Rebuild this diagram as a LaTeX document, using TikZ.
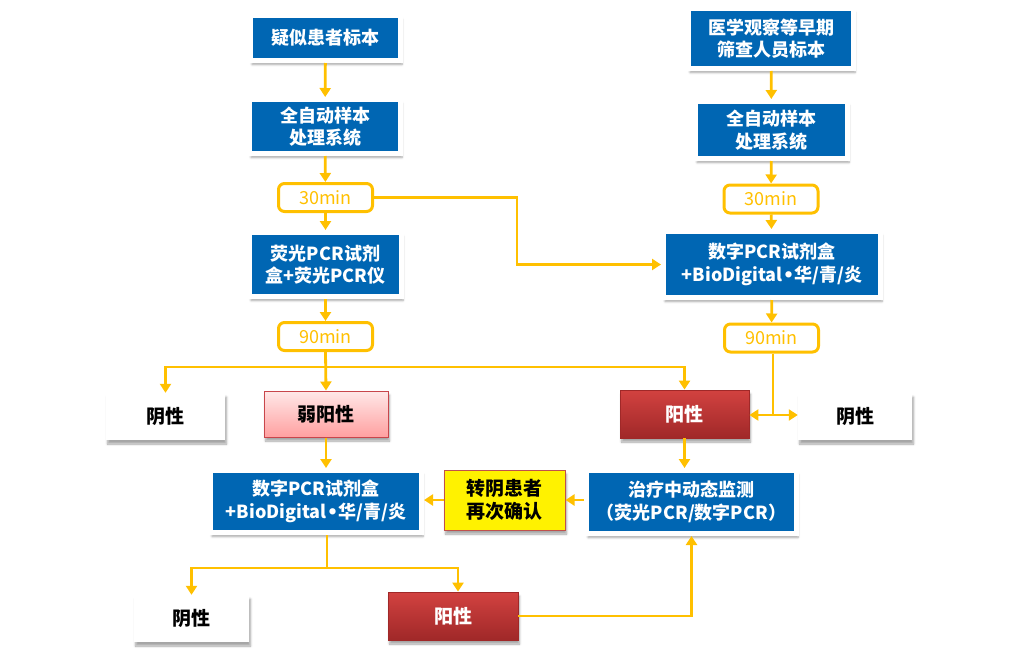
\documentclass[tikz,border=0pt]{standalone}
\usepackage{fontspec}
\setmainfont{Noto Sans CJK SC}
\newfontfamily\bulletfont{DejaVu Sans}
\newcommand{\mybul}{{\bulletfont\bfseries •}}
\usetikzlibrary{arrows.meta,shadows.blur,calc}
\definecolor{bblue}{RGB}{0,102,179}
\definecolor{gold}{RGB}{255,192,0}
\definecolor{redtop}{RGB}{210,66,64}
\definecolor{redbot}{RGB}{160,40,40}
\definecolor{pinktop}{RGB}{255,232,232}
\definecolor{pinkbot}{RGB}{255,160,160}
\definecolor{pinkedge}{RGB}{200,70,75}
\definecolor{yedge}{RGB}{192,80,77}
\tikzset{
  shad/.style={blur shadow={shadow xshift=1.5pt, shadow yshift=-4pt, shadow blur steps=6, shadow opacity=35}},
  bluebox/.style={fill=bblue, draw=white, line width=5pt, text=white, font=\bfseries\fontsize{18}{22.5}\selectfont, align=center, inner sep=0pt, shad},
  timebox/.style={draw=gold, fill=white, line width=3pt, rounded corners=6pt, text=gold, font=\fontsize{18}{20}\selectfont, inner sep=0pt, minimum width=94pt, minimum height=28pt},
  negbox/.style={fill=white, text=black, font=\bfseries\fontsize{19}{22}\selectfont, inner sep=0pt, shad},
  posbox/.style={top color=redtop, bottom color=redbot, draw=redbot, line width=0.8pt, text=white, font=\bfseries\fontsize{19}{22}\selectfont, inner sep=0pt, shad},
  weakbox/.style={top color=pinktop, bottom color=pinkbot, draw=pinkedge, line width=1pt, text=black, font=\bfseries\fontsize{19}{22}\selectfont, inner sep=0pt, shad},
  ybox/.style={fill=yellow, draw=yedge, line width=1pt, text=black, font=\bfseries\fontsize{19}{23}\selectfont, align=center, inner sep=0pt, shad},
  ln/.style={draw=gold, line width=2.8pt},
  arr/.style={draw=gold, line width=2.8pt, -{Triangle[length=9pt,width=11pt]}},
}
\begin{document}
\begin{tikzpicture}[x=1pt,y=-1pt]
\useasboundingbox (0,0) rectangle (1025,653);
% left column
\node[bluebox, minimum width=150pt, minimum height=45pt] (b1) at (325.5,38) {疑似患者标本};
\node[bluebox, minimum width=151pt, minimum height=54pt] (b2) at (325,126.5) {全自动样本\\处理系统};
\node[timebox] (t1) at (325.5,197.5) {30min};
\node[bluebox, minimum width=152pt, minimum height=64pt] (b3) at (325.5,264.5) {荧光PCR试剂\\盒+荧光PCR仪};
\node[timebox] (t2) at (325.5,336.5) {90min};
% right column
\node[bluebox, minimum width=165pt, minimum height=60pt] (r1) at (771,38.5) {医学观察等早期\\筛查人员标本};
\node[bluebox, minimum width=152pt, minimum height=57pt] (r2) at (771.5,130) {全自动样本\\处理系统};
\node[timebox] (t3) at (771,199) {30min};
\node[bluebox, minimum width=217pt, minimum height=66pt] (r3) at (772,264.5) {数字PCR试剂盒\\+BioDigital\mybul 华/青/炎};
\node[timebox] (t4) at (771.5,338) {90min};
% results
\node[negbox, minimum width=119pt, minimum height=47pt] (n1) at (165.5,416.5) {阴性};
\node[weakbox, minimum width=124pt, minimum height=46pt] (w1) at (326,414) {弱阳性};
\node[posbox, minimum width=129pt, minimum height=48pt] (p1) at (684.5,414) {阳性};
\node[negbox, minimum width=114pt, minimum height=47pt] (n2) at (855,416.5) {阴性};
\node[bluebox, minimum width=211pt, minimum height=62pt] (b4) at (316,501.5) {数字PCR试剂盒\\+BioDigital\mybul 华/青/炎};
\node[ybox, minimum width=121pt, minimum height=60pt] (y1) at (504.5,500) {转阴患者\\再次确认};
\node[bluebox, minimum width=210pt, minimum height=63pt] (c1) at (691.5,502) {治疗中动态监测\\（荧光PCR/数字PCR）};
\node[negbox, minimum width=115pt, minimum height=47pt] (n3) at (191.5,618.5) {阴性};
\node[posbox, minimum width=130pt, minimum height=48pt] (p2) at (453,616) {阳性};
% helper coordinates
\coordinate (k1) at (517,197.5);
\coordinate (h1) at (325.5,367);
\coordinate (j1) at (773,415);
\coordinate (k2) at (327,568);
\coordinate (k3) at (458,568);
% connectors
\draw[arr] (b1) -- (b2);
\draw[arr] (b2) -- (t1);
\draw[arr] (t1) -- (b3);
\draw[arr] (b3) -- (t2);
\draw[arr] (r1) -- (r2);
\draw[arr] (r2) -- (t3);
\draw[arr] (t3) -- (r3);
\draw[arr] (r3) -- (t4);
\draw[arr] (t1.east) -- (k1) |- (r3.west);
\draw[ln] (t4.south -| j1) -- (j1);
\draw[arr] (j1) -- (j1 -| p1.east);
\draw[arr] (j1) -- (j1 -| n2.west);
\draw[arr] (t2.south) -- (w1.north);
\draw[arr] (h1) -| (n1.north);
\draw[arr] (h1) -| (p1.north);
\draw[arr] (w1.south) -- (w1.south |- b4.north);
\draw[arr] (p1.south) -- (p1.south |- c1.north);
\draw[arr] (y1.east -| c1.west) -- (y1.east);
\draw[arr] (y1.west) -- (y1.west -| b4.east);
\draw[ln] (b4.south -| k2) -- (k2);
\draw[arr] (k2) -| (n3.north);
\draw[arr] (k2) -- (k3) -- (k3 |- p2.north);
\draw[arr] (p2.east) -| (c1.south);
\end{tikzpicture}
\end{document}
